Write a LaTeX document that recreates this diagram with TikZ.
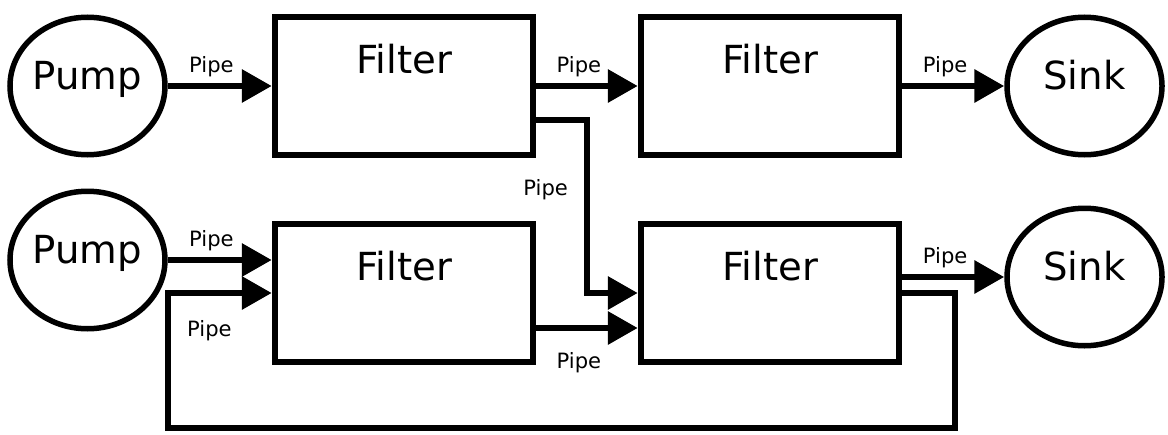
\documentclass[tikz,border=0pt]{standalone}
\usepackage{fontspec}
\setmainfont{DejaVu Sans}
\usetikzlibrary{arrows.meta, positioning, shapes.geometric, calc}

\begin{document}
\begin{tikzpicture}[
    % Styles
    filter box/.style={draw, line width=1.3mm, minimum width=5.16cm, minimum height=2.76cm, inner sep=0},
    filter title/.style={font=\fontsize{22}{26}\selectfont, inner sep=0},
    tank/.style={ellipse, draw, line width=1.1mm, minimum width=3.1cm, minimum height=2.75cm, inner sep=0,
        font=\fontsize{22}{26}\selectfont, text height=12pt, text depth=8pt},
    pipe/.style={line width=1.3mm, -{Triangle[length=6mm, width=6.4mm]}},
    pipe label/.style={font=\fontsize{12}{14}\selectfont},
]
    \useasboundingbox (0,0) rectangle (23.36,8.68);

    % === Top line ===
    \node[filter box] (f1) at (8.08,6.96) {};
    \node[filter box, right=2.03cm of f1] (f2) {};
    \node[tank, left=2.08cm of f1] (p1) {Pump};
    \node[tank, right=2.04cm of f2] (s1) {Sink};
    \node[filter title, below=6mm of f1.north] (f1-title) {Filter};
    \node[filter title, below=6mm of f2.north] (f2-title) {Filter};

    % === Bottom line ===
    \node[filter box, below=1.25cm of f1] (f3) {};
    \node[filter box, below=1.25cm of f2] (f4) {};
    \node[filter title, below=6mm of f3.north] (f3-title) {Filter};
    \node[filter title, below=6mm of f4.north] (f4-title) {Filter};
    % pump and sink sit level with their pipes, not with the boxes
    \node[tank] (p2) at ([yshift=6.6mm]f3.west -| p1) {Pump};
    \node[tank] (s2) at ([yshift=3.2mm]f4.east -| s1) {Sink};

    % corners of the pipes between and under the boxes
    \coordinate (drop) at ($(f1.south east)!0.5!(f4.north west)$);
    \coordinate (loop-se) at (19.10,0.12);
    \coordinate (loop-sw) at (p2.east |- loop-se);

    % === Pipes ===
    \draw[pipe] (p1.east) -- (f1.west) node[pipe label, above, pos=0.42] {Pipe};
    \draw[pipe] (f1.east) -- (f2.west) node[pipe label, above, pos=0.42] {Pipe};
    \draw[pipe] (f2.east) -- (s1.west) node[pipe label, above, pos=0.42] {Pipe};
    \draw[pipe] ([yshift=-6.8mm]f1.east) -| (drop) node[pipe label, left=2mm] {Pipe} |- (f4.west);

    \draw[pipe] (p2.east) -- (p2.east -| f3.west) node[pipe label, above, pos=0.42] {Pipe};
    \draw[pipe] ([yshift=-7mm]f3.east) -- ([yshift=-7mm]f4.west) node[pipe label, below=3mm, pos=0.42] {Pipe};
    \draw[pipe] ([yshift=3.2mm]f4.east) -- ([yshift=3.2mm]f4.east -| s2.west) node[pipe label, above, pos=0.42] {Pipe};

    % feedback pipe back round under the boxes
    \draw[pipe] (f4.east) -| (loop-se) -- (loop-sw) |- (f3.west) node[pipe label, below=3.6mm, pos=0.7] {Pipe};
\end{tikzpicture}
\end{document}
